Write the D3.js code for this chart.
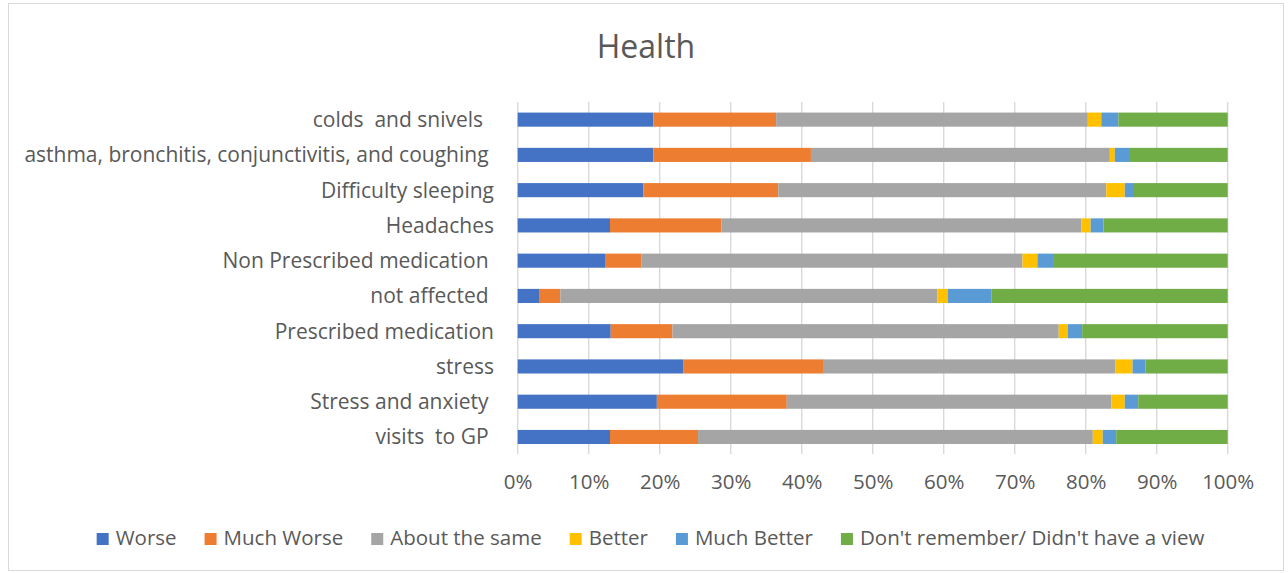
<!DOCTYPE html>
<html><head><meta charset="utf-8">
<script src="https://cdn.jsdelivr.net/npm/d3@7"></script>
<style>body{margin:0;background:#fff}text{font-family:"Open Sans",sans-serif;fill:#595959;white-space:pre}</style>
</head><body><svg id="c" width="1288" height="573"></svg>
<script>
const categories = ["colds  and snivels  ","asthma, bronchitis, conjunctivitis, and coughing ","Difficulty sleeping","Headaches","Non Prescribed medication ","not affected ","Prescribed medication","stress","Stress and anxiety ","visits  to GP "];
const seriesNames = ["Worse","Much Worse","About the same","Better","Much Better","Don't remember/ Didn't have a view"];
const colors = ["#4472C4","#ED7D31","#A5A5A5","#FFC000","#5B9BD5","#70AD47"];
const worse      = [19.1,19.1,17.7,13.0,12.3, 3.0,13.1,23.3,19.6,13.0];
const muchWorse  = [17.3,22.2,19.0,15.7, 5.1, 3.0, 8.7,19.7,18.3,12.4];
const aboutSame  = [43.9,42.1,46.2,50.7,53.7,53.1,54.4,41.2,45.7,55.6];
const better     = [ 1.9, 0.7, 2.6, 1.3, 2.1, 1.5, 1.3, 2.4, 1.9, 1.4];
const muchBetter = [ 2.4, 2.0, 1.3, 1.8, 2.2, 6.1, 2.0, 1.8, 1.9, 1.9];
const dontRemember=[15.4,13.9,13.2,17.5,24.6,33.3,20.5,11.6,12.6,15.7];
const tickValues = [0,0.1,0.2,0.3,0.4,0.5,0.6,0.7,0.8,0.9,1];
const title = "Health";

const seriesVals = [worse,muchWorse,aboutSame,better,muchBetter,dontRemember];
const rows = categories.map((c,i)=>{const o={cat:c};seriesNames.forEach((s,j)=>o[s]=seriesVals[j][i]);return o;});
const stack = d3.stack().keys(seriesNames).offset(d3.stackOffsetExpand)(rows);

const svg = d3.select("#c");
svg.append("rect").attr("x",8.5).attr("y",3.5).attr("width",1275).attr("height",567).attr("fill","#fff").attr("stroke","#d9d9d9");

const x = d3.scaleLinear().domain([0,1]).range([517.7,1227.7]);
const y = d3.scaleBand().domain(categories).range([102,454.6]).paddingInner(0.6).paddingOuter(0.3);

svg.append("text").attr("x",646).attr("y",58).attr("text-anchor","middle").style("font-size","32px").text(title);

// gridlines
svg.append("g").selectAll("line").data(tickValues).join("line")
  .attr("x1",d=>x(d)).attr("x2",d=>x(d)).attr("y1",102).attr("y2",454)
  .attr("stroke","#d9d9d9").attr("stroke-width",1.4);

// bars
svg.append("g").selectAll("g").data(stack).join("g").attr("fill",(d,i)=>colors[i])
  .selectAll("rect").data(d=>d).join("rect")
  .attr("x",d=>x(d[0])).attr("width",d=>Math.max(0,x(d[1])-x(d[0])))
  .attr("y",d=>y(d.data.cat)).attr("height",y.bandwidth());

// x axis
const xa = svg.append("g").attr("transform","translate(0,454)")
  .call(d3.axisBottom(x).tickValues(tickValues).tickFormat(d3.format(".0%")).tickSize(0).tickPadding(20));
xa.select(".domain").remove();
xa.selectAll("text").style("font-size","20.5px").attr("fill","#595959").style("font-family","'Open Sans',sans-serif");

// y axis
const ya = svg.append("g").attr("transform","translate(494,0)")
  .call(d3.axisLeft(y).tickSize(0).tickPadding(0));
ya.select(".domain").remove();
ya.selectAll("text").style("font-size","21px").attr("fill","#595959").style("font-family","'Open Sans',sans-serif").attr("dy","0.35em");

// legend
const lg = svg.append("g");
const items = lg.selectAll("g").data(seriesNames).join("g");
items.append("rect").attr("width",12).attr("height",12).attr("y",-12).attr("fill",(d,i)=>colors[i]);
items.append("text").attr("x",19).attr("y",0).style("font-size","20.5px").text(d=>d);
let cx=0;
items.each(function(d){const w=d3.select(this).select("text").node().getComputedTextLength();d3.select(this).attr("transform",`translate(${cx},0)`);cx+=19+w+28;});
const total = cx-28;
lg.attr("transform",`translate(${650.5-total/2},545)`);
</script></body></html>
